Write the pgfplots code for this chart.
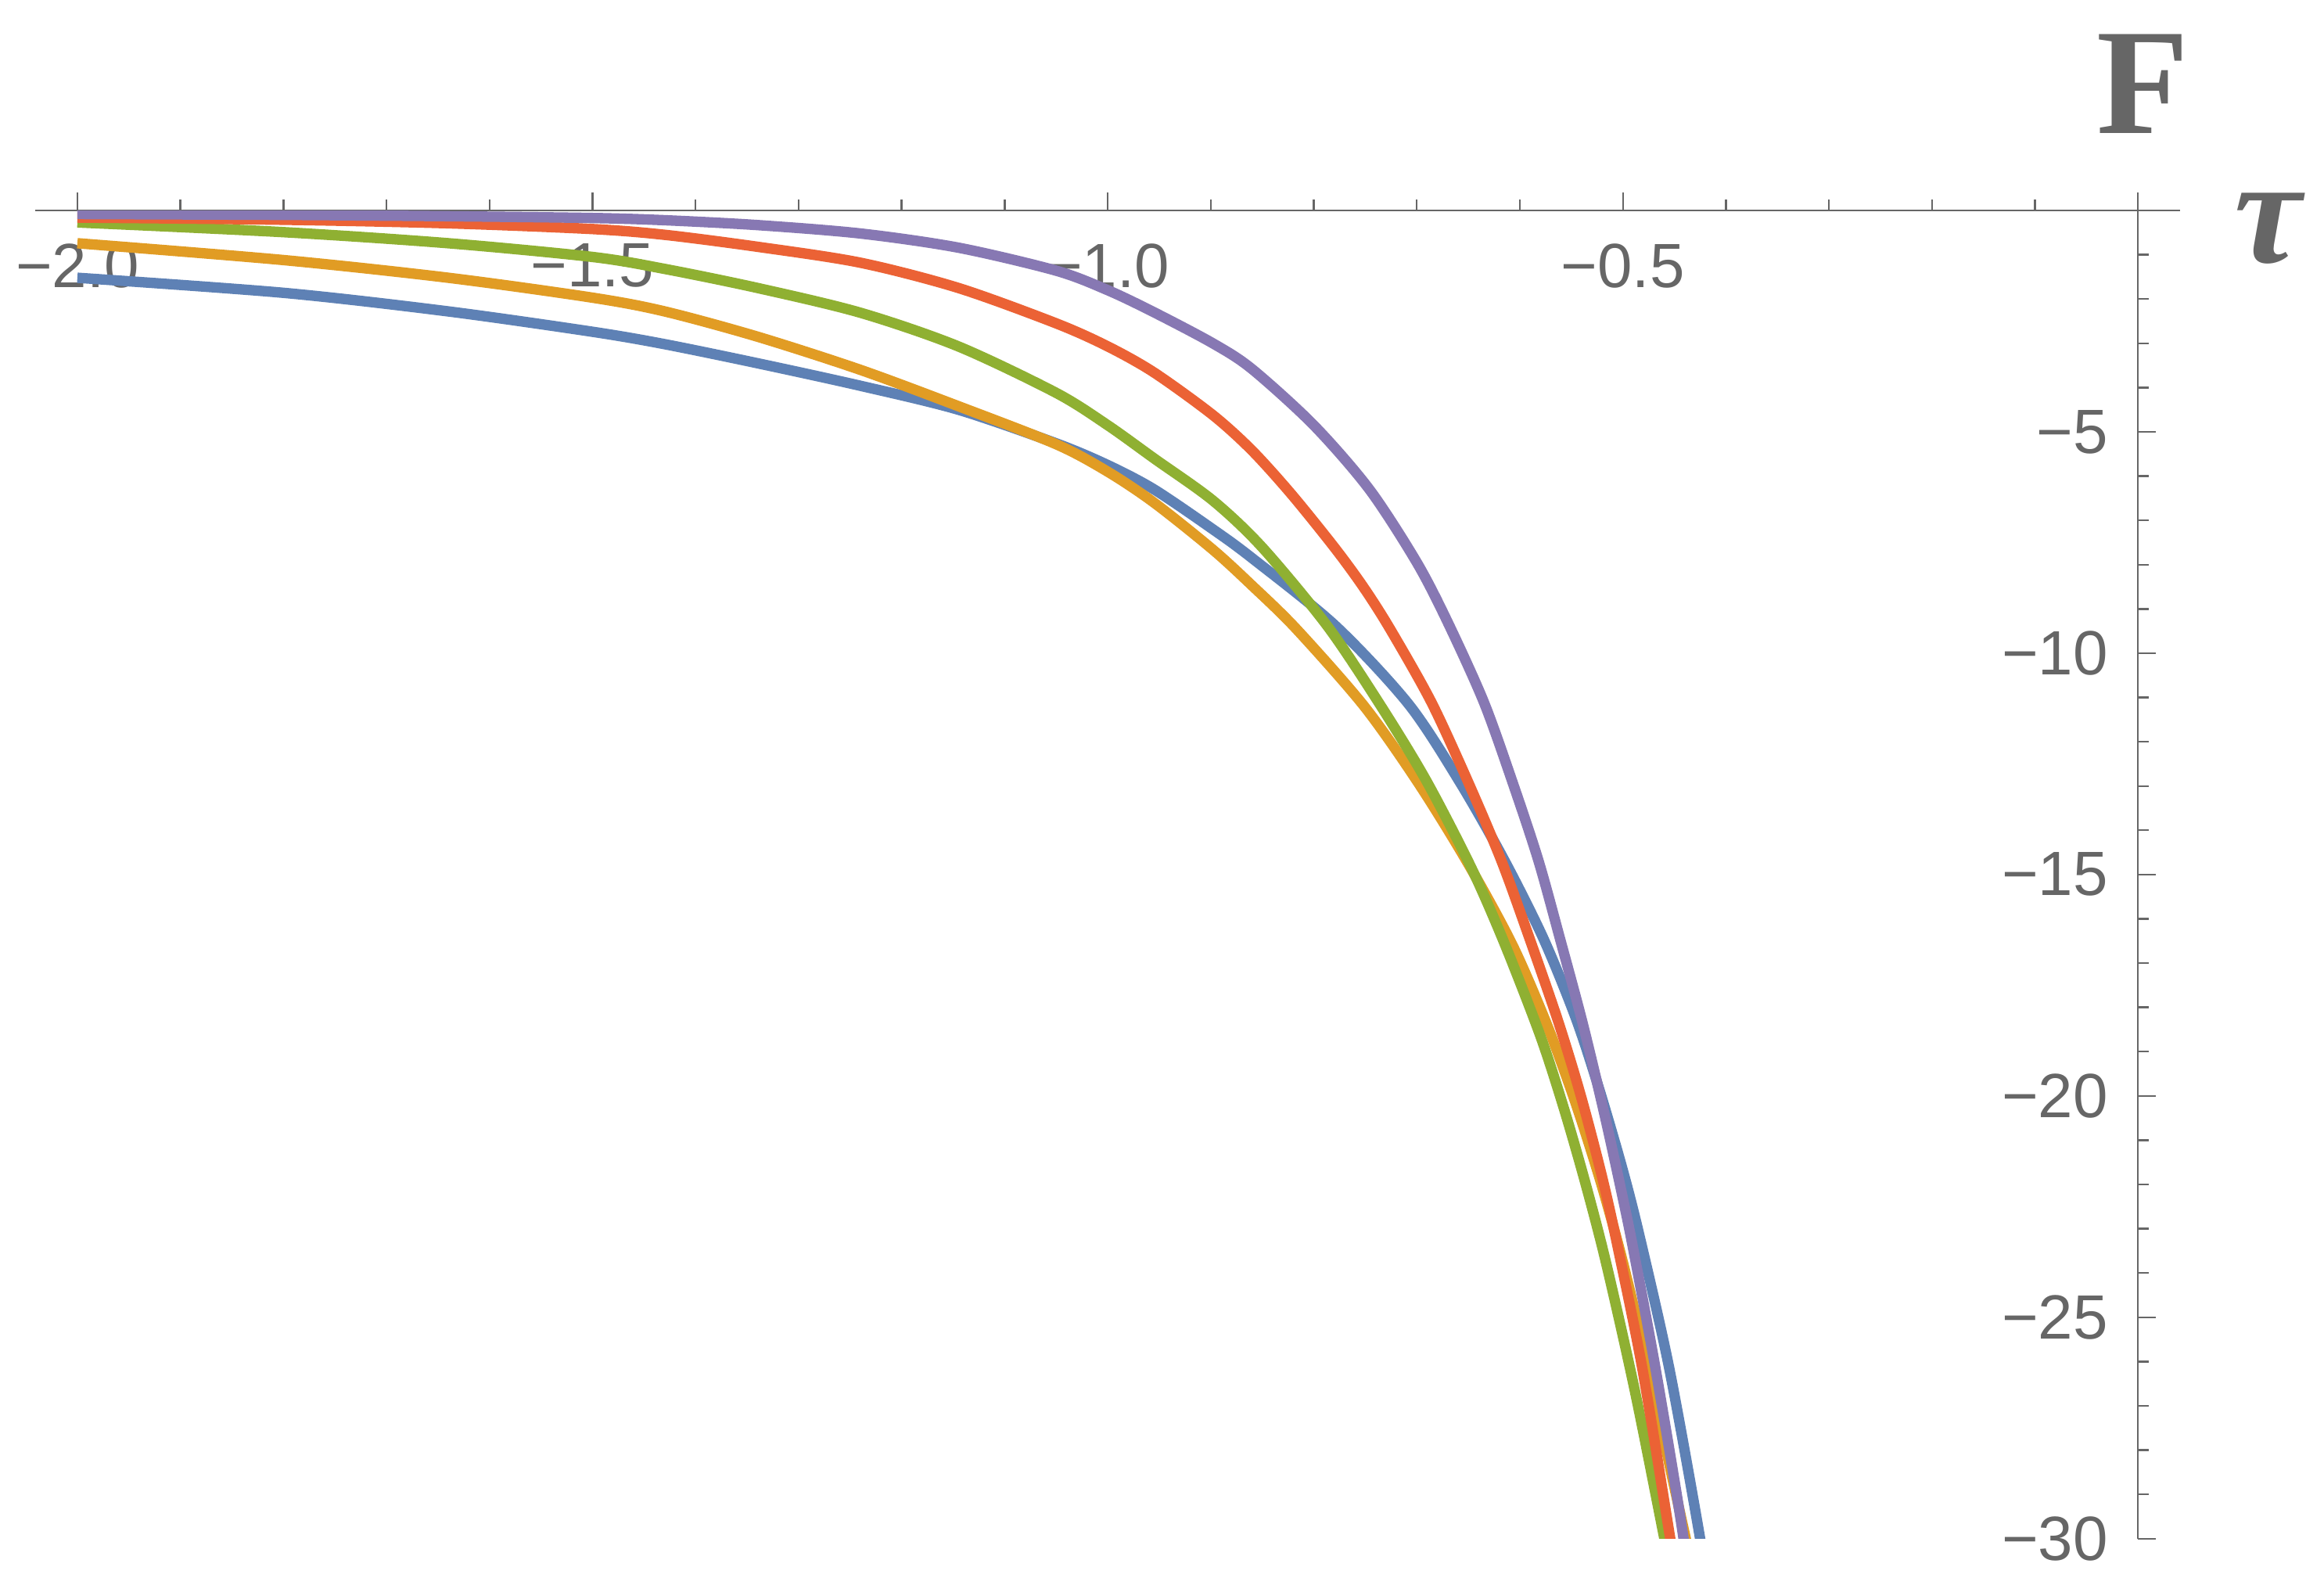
\documentclass[border=0pt]{standalone}
\usepackage{pgfplots}
\pgfplotsset{compat=1.18}
\usepackage{fontspec}
\setmainfont{Liberation Sans}
\newfontfamily\serifbf{Liberation Serif}
\definecolor{axgray}{HTML}{666666}
\definecolor{cA}{HTML}{5E81B5}
\definecolor{cB}{HTML}{E19C24}
\definecolor{cC}{HTML}{8FB032}
\definecolor{cD}{HTML}{EB6235}
\definecolor{cE}{HTML}{8778B3}
\tikzset{curve/.style={line width=2.0pt, smooth, tension=0.5, mark=none, line join=round}}
\begin{document}
\begin{tikzpicture}
\begin{axis}[
  at={(2.37mm,3.1mm)}, anchor=south west,
  scale only axis, width=144.73mm, height=89.6mm,
  xmin=-2.041, xmax=0.041, ymin=-30, ymax=0,
  axis lines=middle,
  axis line style={-, draw=axgray, line width=0.35pt},
  xtick={-2,-1.5,-1,-0.5,0},
  xticklabels={−2.0,−1.5,−1.0,−0.5,{}},
  minor xtick={-1.9,-1.8,-1.7,-1.6,-1.4,-1.3,-1.2,-1.1,-0.9,-0.8,-0.7,-0.6,-0.4,-0.3,-0.2,-0.1},
  ytick={-30,-25,-20,-15,-10,-5},
  yticklabels={−30,−25,−20,−15,−10,−5},
  minor ytick={-29,-28,...,-1},
  hide obscured x ticks=false, hide obscured y ticks=false,
  tick align=inside,
  major tick length=1.2mm, minor tick length=0.72mm,
  tick style={draw=axgray, line width=0.35pt},
  tick label style={font=\fontsize{12}{14}\selectfont, text=axgray},
  xticklabel style={yshift=-2.8pt},
  yticklabel style={xshift=-0.8mm},
]
% blue
\addplot[cA, curve] coordinates {
(-2.00,-1.52) (-1.80,-1.86) (-1.64,-2.28) (-1.50,-2.74) (-1.43,-3.02) (-1.34,-3.45)
(-1.24,-3.96) (-1.145,-4.50) (-1.05,-5.26) (-1.00,-5.75) (-0.955,-6.30) (-0.898,-7.20)
(-0.860,-7.85) (-0.779,-9.38) (-0.708,-11.15) (-0.658,-12.92) (-0.615,-14.68) (-0.577,-16.45)
(-0.546,-18.22) (-0.524,-19.77) (-0.501,-21.60) (-0.484,-23.15) (-0.455,-26.15)
(-0.425,-30.0) (-0.41,-32.3)};
% orange
\addplot[cB, curve] coordinates {
(-2.00,-0.74) (-1.80,-1.12) (-1.64,-1.52) (-1.50,-1.97) (-1.43,-2.28) (-1.34,-2.85)
(-1.24,-3.60) (-1.145,-4.42) (-1.05,-5.28) (-1.00,-5.90) (-0.955,-6.60) (-0.898,-7.66)
(-0.86,-8.47) (-0.817,-9.45) (-0.751,-11.20) (-0.698,-12.95) (-0.650,-14.76)
(-0.607,-16.60) (-0.573,-18.43) (-0.546,-20.15) (-0.521,-21.98) (-0.500,-23.76)
(-0.474,-26.30) (-0.437,-30.2) (-0.42,-31.8)};
% green
\addplot[cC, curve] coordinates {
(-2.00,-0.27) (-1.80,-0.49) (-1.64,-0.74) (-1.50,-1.05) (-1.43,-1.32) (-1.34,-1.75)
(-1.24,-2.31) (-1.145,-3.07) (-1.05,-4.12) (-1.00,-4.85) (-0.955,-5.60) (-0.898,-6.55)
(-0.85,-7.61) (-0.787,-9.38) (-0.736,-11.15) (-0.691,-12.87) (-0.647,-14.85)
(-0.615,-16.55) (-0.580,-18.65) (-0.557,-20.30) (-0.536,-22.00) (-0.516,-23.80)
(-0.488,-26.70) (-0.458,-30.2) (-0.44,-32.3)};
% red
\addplot[cD, curve] coordinates {
(-2.00,-0.16) (-1.80,-0.21) (-1.64,-0.29) (-1.50,-0.42) (-1.43,-0.55) (-1.34,-0.82)
(-1.24,-1.18) (-1.145,-1.75) (-1.05,-2.55) (-1.00,-3.07) (-0.955,-3.66) (-0.898,-4.62)
(-0.860,-5.42) (-0.822,-6.40) (-0.780,-7.61) (-0.752,-8.50) (-0.726,-9.45)
(-0.686,-11.10) (-0.650,-12.92) (-0.618,-14.68) (-0.592,-16.35) (-0.563,-18.30)
(-0.541,-19.98) (-0.521,-21.75) (-0.506,-23.30) (-0.481,-26.17) (-0.454,-30.0)
(-0.44,-32.0)};
% purple
\addplot[cE, curve] coordinates {
(-2.00,-0.08) (-1.80,-0.10) (-1.64,-0.13) (-1.50,-0.17) (-1.43,-0.22) (-1.34,-0.33)
(-1.24,-0.52) (-1.145,-0.84) (-1.05,-1.36) (-1.00,-1.80) (-0.955,-2.30) (-0.898,-3.00)
(-0.86,-3.58) (-0.800,-4.85) (-0.746,-6.30) (-0.700,-7.95)
(-0.670,-9.30) (-0.635,-11.10) (-0.607,-12.92) (-0.582,-14.68) (-0.561,-16.45)
(-0.539,-18.36) (-0.518,-20.40) (-0.501,-22.20) (-0.490,-23.45) (-0.468,-26.20)
(-0.443,-29.7) (-0.428,-32.3)};
\end{axis}
\node[anchor=base, text=axgray, inner sep=0pt] at (144.6mm,97.9mm) {\serifbf\bfseries\fontsize{29}{29}\selectfont F};
\node[anchor=center, text=axgray, inner sep=0pt] at (153.0mm,91.5mm) {\serifbf\bfseries\itshape\fontsize{29}{29}\selectfont τ};
\pgfresetboundingbox
\path (0,0) rectangle (156.8mm,106.9mm);
\end{tikzpicture}
\end{document}
